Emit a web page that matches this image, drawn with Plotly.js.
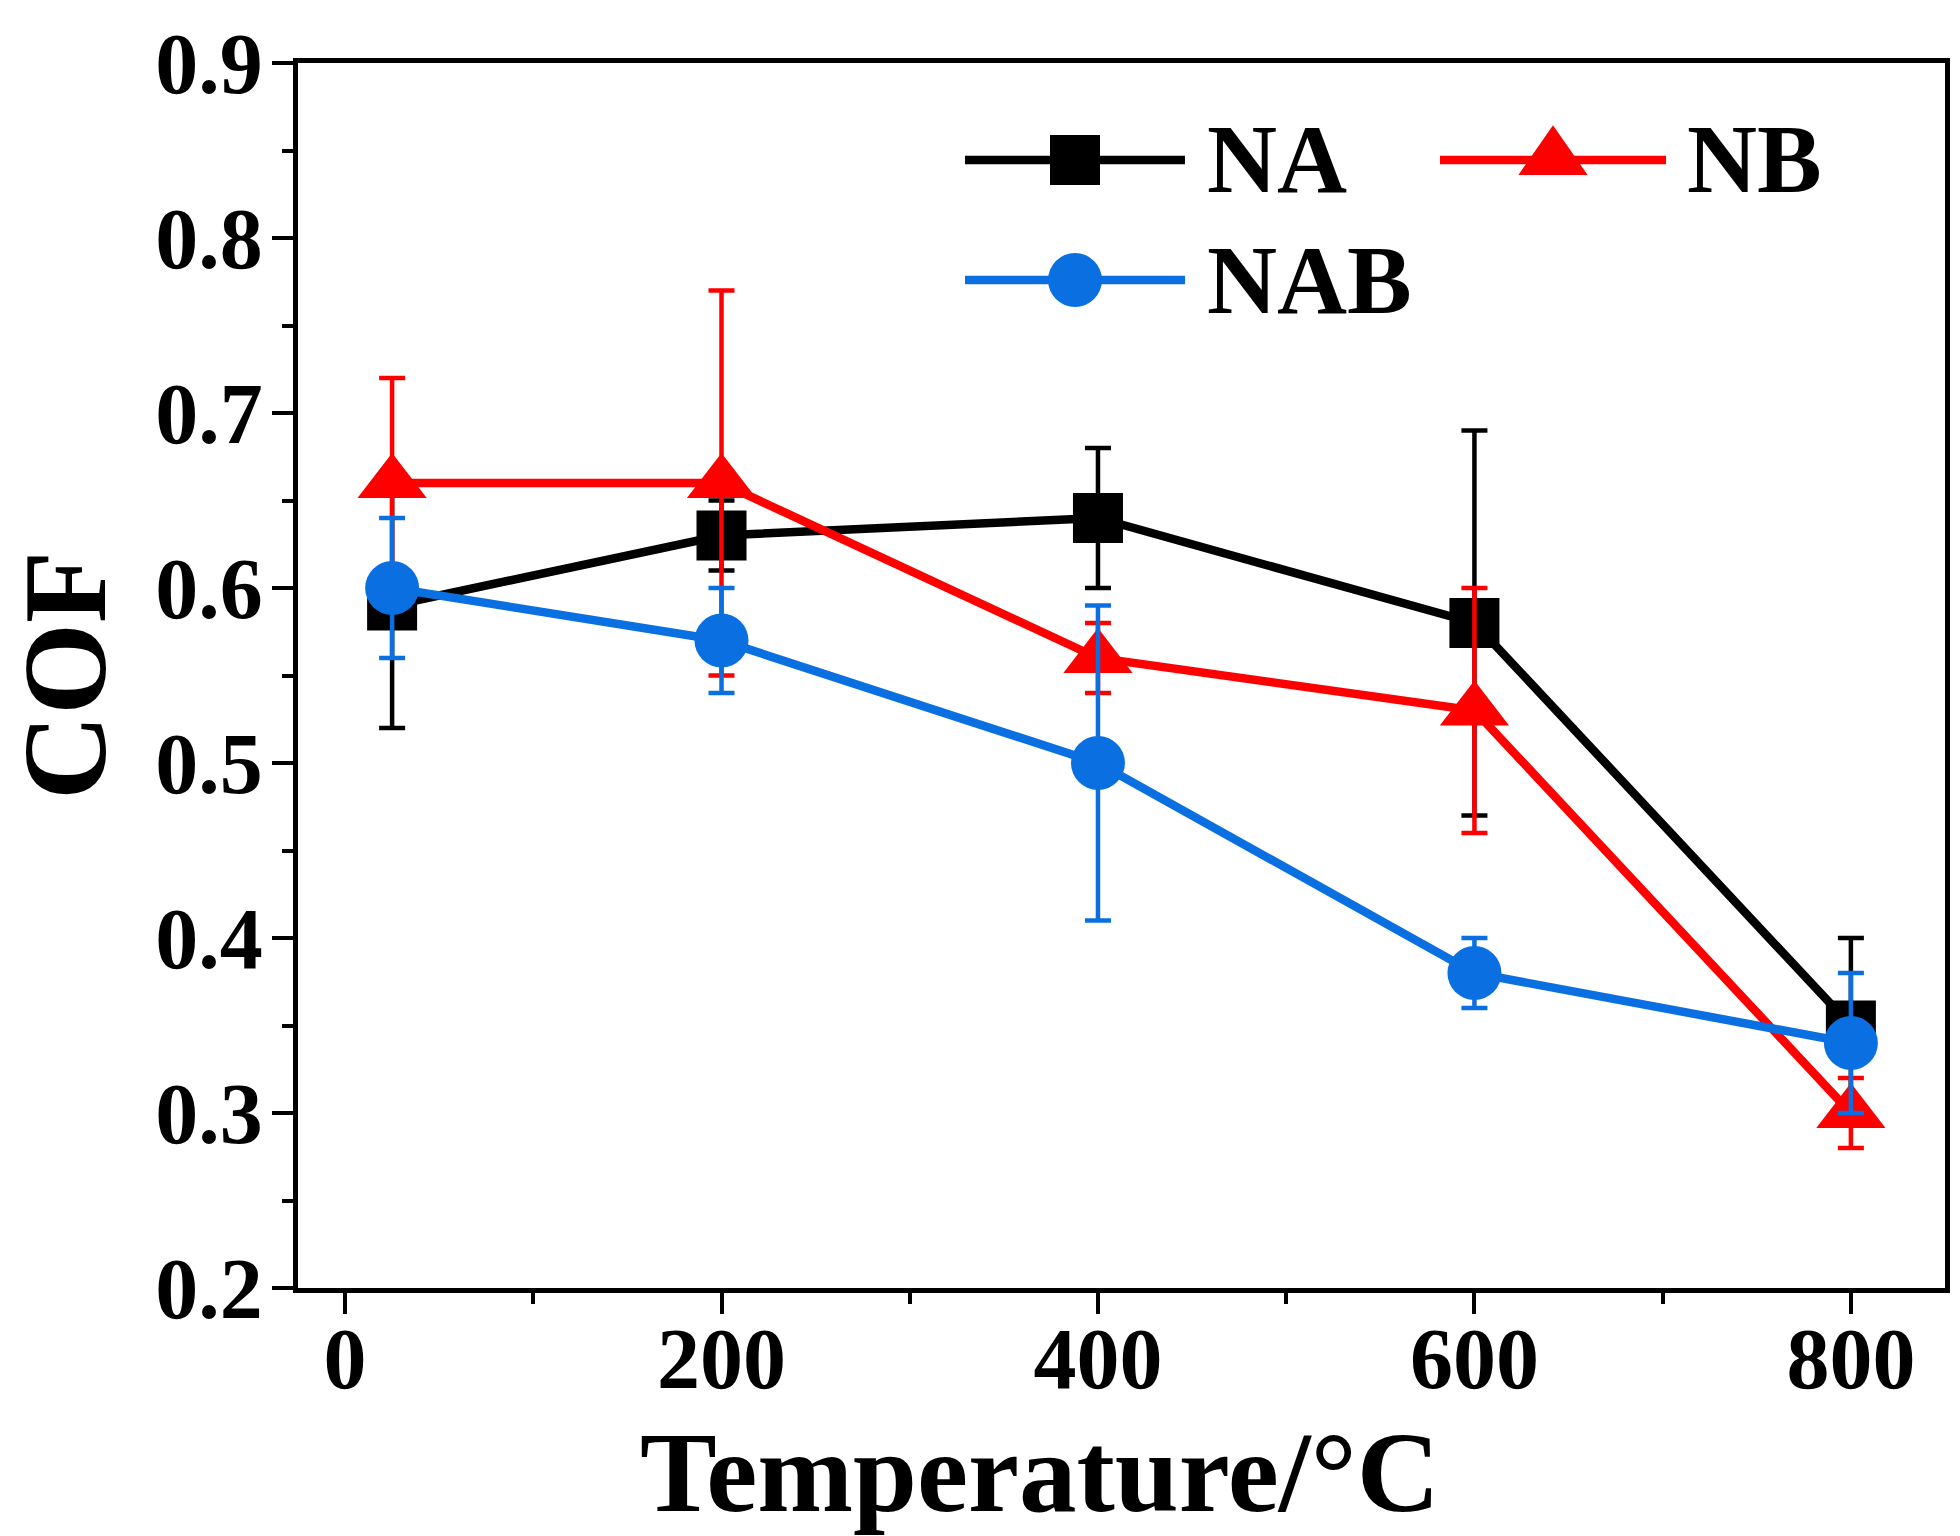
<!DOCTYPE html>
<html>
<head>
<meta charset="utf-8">
<script src="https://cdn.plot.ly/plotly-3.0.1.min.js"></script>
<style>
  html, body { margin: 0; padding: 0; background: #fff; }
  #chart { width: 1960px; height: 1536px; }
</style>
</head>
<body>
<div id="chart"></div>
<script>
// temperatures (°C) and COF values
const temps = [25, 200, 400, 600, 800];

const naCof = [0.59, 0.63, 0.64, 0.58, 0.35];
const naErr = [0.07, 0.02, 0.04, 0.11, 0.05];

const nbCof = [0.66, 0.66, 0.56, 0.53, 0.30];
const nbErr = [0.06, 0.11, 0.02, 0.07, 0.02];

const nabCof = [0.60, 0.57, 0.50, 0.38, 0.34];
const nabErr = [0.04, 0.03, 0.09, 0.02, 0.04];

const xTicks = [0, 200, 400, 600, 800];
const yTicks = [0.2, 0.3, 0.4, 0.5, 0.6, 0.7, 0.8, 0.9];

const FONT = "Liberation Serif";
const COLORS = { na: "#000000", nb: "#ff0000", nab: "#0a70e2" };

// plot box in page pixels
const BOX = { left: 298, right: 1945, top: 63, bottom: 1288 };
const W = 1960, H = 1536;
const px = (x) => (x - BOX.left) / (BOX.right - BOX.left);
const py = (y) => (BOX.bottom - y) / (BOX.bottom - BOX.top);

const series = [
  { name: "NA", y: naCof, err: naErr, color: COLORS.na, symbol: "square", size: 50 },
  { name: "NB", y: nbCof, err: nbErr, color: COLORS.nb, symbol: "triangle-up", size: 60 },
  { name: "NAB", y: nabCof, err: nabErr, color: COLORS.nab, symbol: "circle", size: 54 },
];

const traces = series.map((s) => ({
  x: temps,
  y: s.y,
  name: s.name,
  type: "scatter",
  mode: "lines+markers",
  line: { color: s.color, width: 8.5 },
  marker: { color: s.color, symbol: s.symbol, size: s.size, line: { width: 0 } },
  error_y: { type: "data", array: s.err, visible: true, color: s.color, thickness: 4.5, width: 13 },
  showlegend: false,
  cliponaxis: false,
}));

// hand-placed legend, like the original (long line samples, two columns)
const legendSlots = [
  { x0: 965, x1: 1185, xm: 1075, xt: 1205, y: 160 },
  { x0: 1440, x1: 1666, xm: 1553, xt: 1685, y: 160 },
  { x0: 965, x1: 1185, xm: 1075, xt: 1205, y: 280 },
];

const shapes = [];
const annotations = [];
series.forEach((s, i) => {
  const slot = legendSlots[i];
  shapes.push({
    type: "line", xref: "paper", yref: "paper",
    x0: px(slot.x0), x1: px(slot.x1), y0: py(slot.y), y1: py(slot.y),
    line: { color: s.color, width: 8.5 },
  });
  const base = {
    xref: "paper", yref: "paper", xsizemode: "pixel", ysizemode: "pixel",
    xanchor: px(slot.xm), yanchor: py(slot.y),
    fillcolor: s.color, line: { width: 0 },
  };
  const r = s.size / 2;
  if (s.symbol === "square") {
    shapes.push({ ...base, type: "rect", x0: -r, x1: r, y0: -r, y1: r });
  } else if (s.symbol === "circle") {
    shapes.push({ ...base, type: "circle", x0: -r, x1: r, y0: -r, y1: r });
  } else {
    const rt = (r * 2) / Math.sqrt(3);
    const rs = r / 2;
    shapes.push({ ...base, type: "path", path: `M${-rt},${-rs} L${rt},${-rs} L0,${rt} Z` });
  }
  annotations.push({
    xref: "paper", yref: "paper", x: px(slot.xt), y: py(slot.y),
    xanchor: "left", yanchor: "middle", showarrow: false,
    text: s.name,
    font: { family: FONT, size: 97, color: "#000", weight: 700 },
  });
});

// x title sits a bit left of the plot centre in the original
annotations.push({
  xref: "paper", yref: "paper", x: px(1040), y: py(1472),
  xanchor: "center", yanchor: "middle", showarrow: false,
  text: "Temperature/°C",
  font: { family: FONT, size: 115, color: "#000", weight: 700 },
});

const axisCommon = {
  showgrid: false,
  zeroline: false,
  showline: true,
  linecolor: "#000",
  linewidth: 5,
  mirror: true,
  ticks: "outside",
  tickcolor: "#000",
  tickwidth: 4,
  ticklen: 21,
  tickfont: { family: FONT, size: 86, color: "#000", weight: 700 },
};

const layout = {
  width: W,
  height: H,
  paper_bgcolor: "#fff",
  plot_bgcolor: "#fff",
  margin: { l: BOX.left, r: W - BOX.right, t: BOX.top, b: H - BOX.bottom },
  showlegend: false,
  xaxis: {
    ...axisCommon,
    range: [-25, 850],
    tickvals: xTicks,
    ticktext: xTicks.map(String),
    ticklabelstandoff: -29,
    minor: { dtick: 100, tick0: 0, ticks: "outside", ticklen: 11, tickwidth: 4, tickcolor: "#000" },
  },
  yaxis: {
    ...axisCommon,
    range: [0.2, 0.9],
    tickvals: yTicks,
    ticktext: yTicks.map((v) => v.toFixed(1)),
    ticklabelstandoff: -8,
    minor: { dtick: 0.05, tick0: 0.2, ticks: "outside", ticklen: 11, tickwidth: 4, tickcolor: "#000" },
    title: {
      text: "COF",
      font: { family: FONT, size: 118, color: "#000", weight: 700 },
      standoff: 22,
    },
  },
  shapes,
  annotations,
};

Plotly.newPlot("chart", traces, layout, { displayModeBar: false, staticPlot: true });
</script>
</body>
</html>
